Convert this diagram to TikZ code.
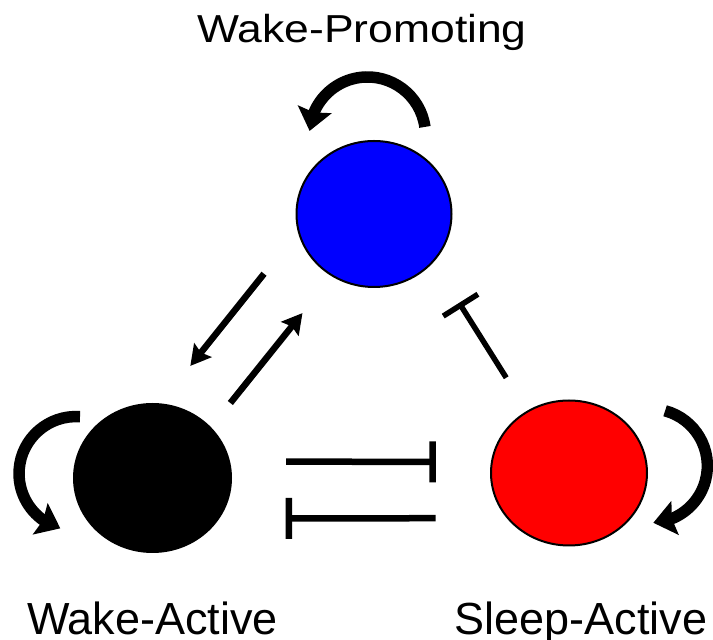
\documentclass[tikz,border=0pt]{standalone}
\usepackage{fontspec}
\setmainfont{Liberation Sans}
\newfontfamily\widesans[FakeStretch=1.14]{Liberation Sans}
\usetikzlibrary{shapes.geometric,arrows.meta,bending}

\begin{document}
\begin{tikzpicture}[x=1pt,y=1pt,
        cell/.style={ellipse,draw=black,line width=2pt,inner sep=0pt},
        act/.style={line width=6.5pt,-{Stealth[length=20pt,width=22pt,inset=3pt]}},
        inh/.style={line width=6.5pt,-{Bar[width=41pt]}},
        selfloop/.style={line width=11.5pt,-{Stealth[length=22pt,width=34pt,inset=3pt]}},
        lbl/.style={font=\fontsize{45}{54}\selectfont,inner sep=0pt,anchor=base}]
        \useasboundingbox (0,0) rectangle (713,640);
        \node[cell,fill=blue,minimum width=155pt,minimum height=146pt] (wp) at (374,426) {};
        \node[cell,fill=black,minimum width=157pt,minimum height=148pt] (wa) at (152.5,162) {};
        \node[cell,fill=red,minimum width=156pt,minimum height=145pt] (sa) at (569,167) {};
        \node[lbl,font=\fontsize{39}{47}\widesans] (wptext) at (362,597) {Wake-Promoting};
        \node[lbl] (watext) at (152.5,5) {Wake-Active};
        \node[lbl] (satext) at (581,5) {Sleep-Active};
        \draw[selfloop] ([shift={(50.9,87.1)}]wp.center) arc[start angle=8,end angle=176,radius=58];
        \draw[selfloop] ([shift={(-72.5,61.3)}]wa.center) arc[start angle=86,end angle=254,radius=57];
        \draw[selfloop] ([shift={(96.1,62.2)}]sa.center) arc[start angle=75,end angle=-87,radius=57];
        \draw[act,shorten <=31pt,shorten >=47pt] (wa.41) -- (wp.236);
        \draw[act,shorten <=54pt,shorten >=48pt] (wp.193) -- (wa.84);
        \draw[inh,shorten <=56pt,shorten >=55pt] (wa.12) -- (sa.172);
        \draw[inh,shorten <=71pt,shorten >=66pt] (sa.216) -- (wa.329);
        \draw[inh,line width=5.5pt,shorten <=39pt,shorten >=48pt] (sa.124) -- (wp.321);
    \end{tikzpicture}
\end{document}
